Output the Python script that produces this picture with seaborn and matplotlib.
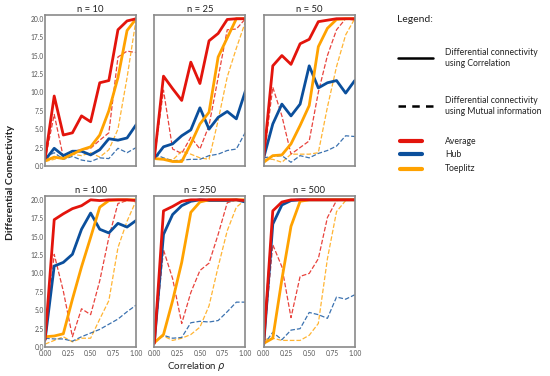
import numpy as np
import pandas as pd
import seaborn as sns
import matplotlib.pyplot as plt
from matplotlib.lines import Line2D

# correlation values on the x axis
rho = [0.0, 0.1, 0.2, 0.3, 0.4, 0.5, 0.6, 0.7, 0.8, 0.9, 1.0]
sizes = [10, 25, 50, 100, 250, 500]

# Average network, differential connectivity using correlation
avg_corr = {
    10: [1.0, 9.5, 4.2, 4.5, 6.8, 6.0, 11.3, 11.6, 18.5, 19.7, 20.0],
    25: [1.1, 12.2, 10.5, 8.9, 14.1, 11.2, 17.0, 18.0, 19.9, 20.0, 20.0],
    50: [1.1, 13.6, 15.0, 13.8, 16.6, 17.2, 19.6, 19.8, 20.0, 20.0, 20.0],
    100: [1.0, 17.3, 18.1, 18.8, 19.2, 20.0, 19.9, 20.0, 20.0, 20.0, 19.9],
    250: [0.5, 18.5, 19.1, 19.8, 20.0, 20.0, 20.0, 20.0, 20.0, 20.0, 19.9],
    500: [0.5, 18.5, 19.7, 20.0, 20.0, 20.0, 20.0, 20.0, 20.0, 20.0, 20.0],
}
# Average network, mutual information
avg_mi = {
    10: [0.8, 7.0, 1.2, 2.0, 2.2, 2.4, 3.5, 4.5, 14.8, 15.6, 15.4],
    25: [1.1, 10.3, 2.3, 1.7, 3.9, 2.3, 5.5, 12.0, 18.5, 18.6, 20.0],
    50: [0.9, 10.7, 6.8, 1.6, 2.5, 3.4, 10.0, 15.0, 18.5, 20.0, 19.8],
    100: [0.7, 12.6, 7.6, 1.4, 5.2, 4.4, 9.0, 14.9, 19.5, 19.9, 20.0],
    250: [0.7, 13.2, 9.3, 3.2, 7.4, 10.4, 11.4, 15.3, 19.6, 20.0, 19.9],
    500: [0.5, 13.9, 10.9, 4.0, 9.6, 10.0, 12.0, 17.6, 19.9, 20.0, 20.0],
}
# Hub network
hub_corr = {
    10: [0.8, 2.4, 1.4, 2.0, 2.0, 1.5, 2.2, 3.7, 3.5, 3.8, 5.6],
    25: [1.0, 2.6, 3.0, 4.1, 4.9, 7.9, 5.0, 6.6, 7.4, 6.4, 10.2],
    50: [1.1, 5.7, 8.4, 6.8, 8.4, 13.6, 10.6, 11.3, 11.6, 9.9, 11.6],
    100: [1.0, 11.0, 11.5, 12.6, 16.0, 18.2, 16.0, 15.5, 16.8, 16.3, 17.2],
    250: [0.7, 15.3, 18.0, 19.2, 19.8, 20.0, 19.9, 19.9, 19.9, 20.0, 19.7],
    500: [0.3, 16.7, 19.3, 19.9, 20.0, 20.0, 20.0, 20.0, 20.0, 20.0, 20.0],
}
hub_mi = {
    10: [1.2, 1.8, 0.9, 1.3, 0.8, 0.6, 1.1, 1.0, 2.4, 1.8, 2.5],
    25: [1.6, 1.1, 0.7, 0.8, 0.9, 0.9, 1.4, 1.6, 2.1, 2.3, 4.6],
    50: [1.1, 1.3, 1.4, 0.5, 1.4, 1.1, 1.7, 2.1, 2.7, 4.1, 4.0],
    100: [1.2, 1.1, 1.1, 0.8, 1.4, 1.9, 2.4, 3.1, 3.8, 4.8, 5.7],
    250: [0.7, 1.6, 1.2, 1.3, 3.3, 3.5, 3.4, 3.6, 4.8, 6.1, 6.1],
    500: [0.3, 2.0, 1.0, 2.3, 2.5, 4.7, 4.4, 3.9, 6.8, 6.5, 7.1],
}
# Toeplitz network
toep_corr = {
    10: [0.7, 1.2, 1.0, 1.6, 2.2, 2.6, 4.2, 7.5, 12.0, 18.4, 20.0],
    25: [1.0, 0.9, 0.6, 0.6, 3.0, 5.7, 7.3, 14.8, 17.4, 20.0, 20.0],
    50: [0.5, 1.4, 1.5, 3.0, 5.5, 8.2, 16.2, 18.7, 19.9, 20.0, 20.0],
    100: [1.4, 1.5, 1.8, 6.5, 10.9, 14.9, 19.0, 19.9, 20.0, 20.0, 20.0],
    250: [0.6, 1.7, 6.3, 11.5, 18.3, 19.7, 20.0, 20.0, 20.0, 20.0, 20.0],
    500: [0.5, 1.2, 9.2, 16.4, 19.8, 20.0, 20.0, 20.0, 20.0, 20.0, 20.0],
}
toep_mi = {
    10: [0.6, 0.9, 1.3, 1.6, 1.4, 1.8, 1.2, 2.2, 5.0, 12.0, 20.0],
    25: [0.9, 1.0, 0.8, 2.0, 1.6, 1.1, 0.9, 6.2, 12.1, 16.0, 19.6],
    50: [0.9, 0.9, 0.5, 1.6, 1.6, 1.6, 1.8, 8.0, 13.5, 17.8, 20.0],
    100: [0.4, 0.9, 1.4, 0.7, 1.2, 1.2, 3.8, 6.3, 13.5, 17.1, 19.9],
    250: [0.7, 1.5, 0.9, 1.2, 1.7, 2.7, 5.6, 10.9, 15.8, 19.0, 20.0],
    500: [1.0, 1.2, 0.9, 0.9, 0.9, 1.6, 3.2, 12.0, 18.4, 19.9, 20.0],
}

red = '#e3140c'
blue = '#0b4f9c'
orange = '#ffa200'

sns.set_style('white')
plt.rcParams['font.family'] = ['Lato', 'DejaVu Sans']

fig, axes = plt.subplots(2, 3, figsize=(5.5, 3.76), dpi=100, sharex=True, sharey=True)
fig.subplots_adjust(left=0.082, right=0.645, bottom=0.077, top=0.96, wspace=0.2, hspace=0.2)

series = [
    (avg_mi, red, '--', 0.9, 0.8),
    (toep_mi, orange, '--', 0.9, 0.8),
    (hub_mi, blue, '--', 0.9, 0.8),
    (hub_corr, blue, '-', 2.0, 1.0),
    (toep_corr, orange, '-', 2.0, 1.0),
    (avg_corr, red, '-', 2.0, 1.0),
]

for ax, n in zip(axes.flat, sizes):
    for data, col, ls, lw, a in series:
        sns.lineplot(x=rho, y=data[n], color=col, linestyle=ls, linewidth=lw, alpha=a, ax=ax)
    ax.set_title(f'n = {n}', fontsize=6.8, pad=2, color='#222222')
    ax.set_xlim(0, 1)
    ax.set_ylim(0, 20.5)
    ax.set_xticks([0, 0.25, 0.5, 0.75, 1.0])
    ax.set_yticks(np.arange(0, 20.1, 2.5))
    ax.xaxis.set_major_formatter(plt.FormatStrFormatter('%.2f'))
    ax.yaxis.set_major_formatter(plt.FormatStrFormatter('%.1f'))
    ax.tick_params(labelsize=4.8, colors='#555555', length=0, pad=1)
    ax.tick_params(axis='x', pad=2)
    for s in ax.spines.values():
        s.set_color('#8a8a8a')
        s.set_linewidth(1.2)

fig.text(0.02, 0.515, 'Differential Connectivity', rotation=90, ha='center', va='center',
         fontsize=7.5, fontweight='bold', color='#222222')
fig.text(0.358, 0.024, 'Correlation $\\rho$', ha='center', va='center', fontsize=7, color='#222222')

# legend block on the right
fig.text(0.722, 0.947, 'Legend:', fontsize=7.5, va='center', color='#222222')
fig.add_artist(Line2D([0.724, 0.787], [0.846, 0.846], color='black', lw=1.8))
fig.add_artist(Line2D([0.724, 0.787], [0.718, 0.718], color='black', lw=1.8, ls=(0, (3, 2.5))))
fig.text(0.809, 0.846, 'Differential connectivity\nusing Correlation', fontsize=6.2,
         va='center', linespacing=1.3, color='#222222')
fig.text(0.809, 0.718, 'Differential connectivity\nusing Mutual information', fontsize=6.2,
         va='center', linespacing=1.3, color='#222222')
for yy, col, lab in [(0.625, red, 'Average'), (0.590, blue, 'Hub'), (0.551, orange, 'Toeplitz')]:
    fig.add_artist(Line2D([0.727, 0.767], [yy, yy], color=col, lw=3, solid_capstyle='round'))
    fig.text(0.809, yy, lab, fontsize=6.2, va='center', color='#222222')

plt.savefig('out.png', dpi=100)
